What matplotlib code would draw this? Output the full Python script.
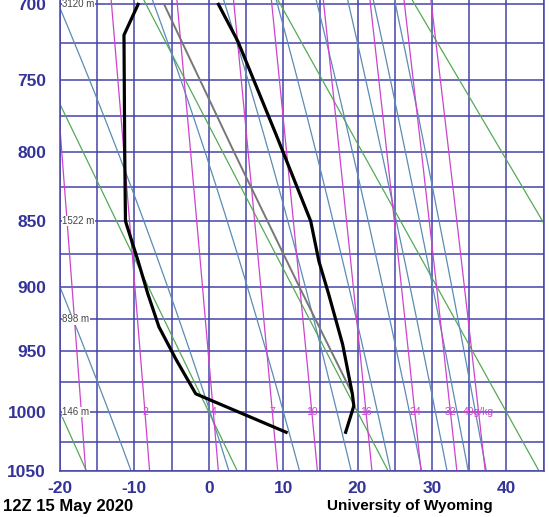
import numpy as np
import matplotlib
matplotlib.use("Agg")
import matplotlib.pyplot as plt

KAPPA = 0.286

# ---------------- data ----------------
temp_p = [700, 724, 787, 850, 880, 905, 945, 985, 995, 1005, 1017]
temp_t = [1.3, 3.9, 9.0, 13.7, 14.8, 16.1, 18.0, 19.3, 19.5, 19.0, 18.4]

dwpt_p = [700, 720, 800, 850, 880, 905, 931, 957, 985, 1017]
dwpt_t = [-9.5, -11.4, -11.3, -11.2, -9.5, -8.2, -6.7, -4.4, -1.75, 10.4]

parcel_p = [700, 800, 900, 985]
parcel_t = [-6.0, 3.4, 12.2, 19.3]

height_p = [700, 850, 925, 1000]
height_lbl = ["3120 m", "1522 m", "898 m", "146 m"]

mix_ratios = [1, 2, 4, 7, 10, 16, 24, 32, 40]
mix_labels = ["", "2", "4", "7", "10", "16", "24", "32", "40g/kg"]
dry_theta_c = [-20, 0, 20, 40, 60]
moist_thetae_c = [-10, 10, 30, 50, 70, 90, 110, 130, 150]

p_ticks = [700, 750, 800, 850, 900, 950, 1000, 1050]
p_minor = [725, 775, 825, 875, 925, 975, 1025]
t_ticks = [-20, -10, 0, 10, 20, 30, 40]
t_minor = [-15, -5, 5, 15, 25, 35, 45]

date_text = "12Z 15 May 2020"
source_text = "University of Wyoming"

# ---------------- helpers ----------------
def fwd(p):
    return np.power(np.abs(p), KAPPA)

def inv(y):
    return np.power(np.abs(y), 1.0 / KAPPA)

def esat(tc):
    return 6.112 * np.exp(17.67 * tc / (tc + 243.5))

def thetae(tk, p):
    es = esat(tk - 273.15)
    ws = 0.622 * es / (p - es)
    return tk * (1000.0 / p) ** KAPPA * np.exp(2.5e6 * ws / (1004.0 * tk))

def moist_T(the_k, p):
    lo = np.full_like(p, 180.0)
    hi = np.full_like(p, 340.0)
    for _ in range(60):
        mid = 0.5 * (lo + hi)
        f = thetae(mid, p) - the_k
        hi = np.where(f > 0, mid, hi)
        lo = np.where(f > 0, lo, mid)
    return 0.5 * (lo + hi) - 273.15

def td_from_w(w, p):
    e = w * p / (622.0 + w)
    l = np.log(e / 6.112)
    return 243.5 * l / (17.67 - l)

# ---------------- figure ----------------
plt.rcParams['font.family'] = ['Liberation Sans', 'DejaVu Sans']
fig = plt.figure(figsize=(5.49, 5.17), dpi=100)
ax = fig.add_axes([60 / 549, 46 / 517, 483.5 / 549, 471 / 517])
ax.set_yscale('function', functions=(fwd, inv))
ax.set_ylim(1050, 697.2)
ax.set_xlim(-20, 45)

grid_c = "#4444aa"
ax.set_xticks(t_ticks)
ax.set_xticks(t_minor, minor=True)
ax.set_yticks(p_ticks)
ax.set_yticks(p_minor, minor=True)
ax.set_yticklabels([str(v) for v in p_ticks])
ax.set_xticklabels([str(v) for v in t_ticks])
ax.grid(True, which='both', color=grid_c, lw=1.1, zorder=0)
ax.set_axisbelow(True)
ax.tick_params(which='both', length=0)
ax.tick_params(axis='x', pad=7, labelsize=12.5, labelcolor="#333399")
ax.tick_params(axis='y', pad=10, labelsize=12.5, labelcolor="#333399")
for lab in ax.get_xticklabels() + ax.get_yticklabels():
    lab.set_fontweight('bold')
for s in ['left', 'bottom', 'right']:
    ax.spines[s].set_color(grid_c)
    ax.spines[s].set_linewidth(1.1)
ax.spines['top'].set_visible(False)

pp = np.linspace(690, 1060, 200)

# dry adiabats
for th in dry_theta_c:
    t = (th + 273.15) * (pp / 1000.0) ** KAPPA - 273.15
    ax.plot(t, pp, color="#55aa55", lw=0.9, zorder=2)

# moist adiabats
for th in moist_thetae_c:
    t = moist_T(th + 273.15, pp)
    ax.plot(t, pp, color="#5a8cb4", lw=0.9, zorder=2)

# mixing ratio lines
for w, lab in zip(mix_ratios, mix_labels):
    t = td_from_w(w, pp)
    ax.plot(t, pp, color="#cc44cc", lw=0.9, zorder=2)
    if lab:
        ax.text(td_from_w(w, 1000.0), 1000, lab, color="#cc44cc", fontsize=7.5,
                ha='center', va='center', zorder=3)

# parcel path
ax.plot(parcel_t, parcel_p, color="#777777", lw=1.4, zorder=3)

# sounding
ax.plot(temp_t, temp_p, color="black", lw=2.3, zorder=4, solid_joinstyle='round')
ax.plot(dwpt_t, dwpt_p, color="black", lw=2.3, zorder=4, solid_joinstyle='round')

# height labels
for p, lab in zip(height_p, height_lbl):
    ax.text(-19.7, p, lab, fontsize=7, color="#444444", ha='left', va='center',
            zorder=5, bbox=dict(facecolor='white', edgecolor='none', pad=0.3))

fig.text(3 / 549, 11 / 517, date_text, ha='left', va='center', fontsize=12,
         fontweight='bold', color='black')
fig.text(410 / 549, 11 / 517, source_text, ha='center', va='center', fontsize=11,
         fontweight='bold', color='black')

fig.savefig("out.png", dpi=100)
